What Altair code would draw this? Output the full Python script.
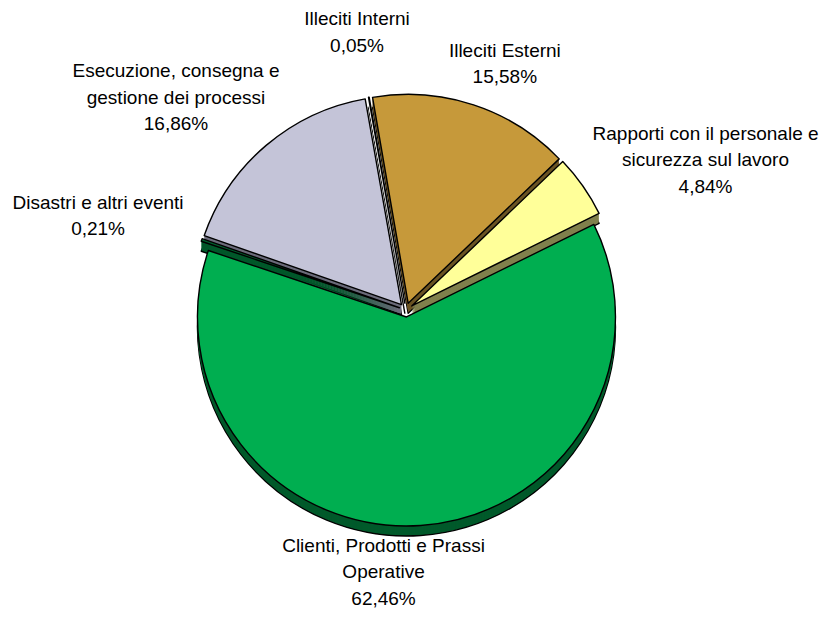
import altair as alt
import pandas as pd

# ---- data -------------------------------------------------------------
categories = [
    "Illeciti Interni",
    "Illeciti Esterni",
    "Rapporti con il personale e\nsicurezza sul lavoro",
    "Clienti, Prodotti e Prassi\nOperative",
    "Disastri e altri eventi",
    "Esecuzione, consegna e\ngestione dei processi",
]
shares = [0.05, 15.58, 4.84, 62.46, 0.21, 16.86]
pct_labels = [f"{v:.2f}".replace(".", ",") + "%" for v in shares]

# ---- styling / layout ---------------------------------------------------
top_colors = ["#FFFFFF", "#C6993A", "#FFFF99", "#00AE50", "#00602E", "#C4C4D8"]
side_colors = ["#FFFFFF", "#6B5424", "#80804D", "#005A2B", "#00582A", "#6B6B7A"]
label_angle_deg = [-10.0, 21.9, 63.4, 184.9, 287.0, 312.7]
label_radius_px = [282, 265, 335, 263, 322, 313]

START_DEG = -10.0   # rotation of first slice
EXPLODE = 7         # explosion distance (px)
RADIUS = 209        # pie radius (px)
DEPTH = 10          # 3D thickness (px)
LINE_H = 26.5       # label line height
W, H = 812, 604
CX, CY = 398, 302   # pie centre inside the view

df = pd.DataFrame({
    "order": list(range(len(categories))),
    "cat": categories,
    "share": shares,
    "label": [c + "\n" + p for c, p in zip(categories, pct_labels)],
    "la": label_angle_deg,
    "lr": label_radius_px,
})

xs = alt.Scale(domain=[-CX, W - CX], range=[0, W])
ys = alt.Scale(domain=[-CY, H - CY], range=[0, H])

base = (
    alt.Chart(df)
    .transform_window(cum="sum(share)", sort=[alt.SortField("order")], frame=[None, 0])
    .transform_joinaggregate(total="sum(share)")
    .transform_calculate(
        start=f"{START_DEG}*PI/180 + 2*PI*(datum.cum - datum.share)/datum.total",
        end=f"{START_DEG}*PI/180 + 2*PI*datum.cum/datum.total",
    )
    .transform_calculate(mid="(datum.start + datum.end)/2")
    .transform_calculate(
        cx=f"{EXPLODE}*sin(datum.mid)",
        cy=f"-{EXPLODE}*cos(datum.mid)",
        lx="datum.lr*sin(datum.la*PI/180)",
        ly=f"-datum.lr*cos(datum.la*PI/180) - (split(datum.label, '\\n').length - 1)*{LINE_H}/2",
    )
)

enc_common = dict(
    x=alt.X("cx:Q", scale=xs, axis=None),
    y=alt.Y("cy:Q", scale=ys, axis=None),
    theta=alt.Theta("start:Q", scale=None),
    theta2=alt.Theta2("end:Q"),
)

layers = []
# extruded sides: deepest (stroked) first, then fill-only copies up to the top
for d in range(DEPTH, 0, -1):
    props = dict(outerRadius=RADIUS, yOffset=d)
    if d == DEPTH:
        props.update(stroke="black", strokeWidth=1.4, strokeJoin="round")
    layers.append(
        base.mark_arc(**props).encode(
            fill=alt.Fill("cat:N", scale=alt.Scale(domain=categories, range=side_colors), legend=None),
            **enc_common,
        )
    )

top = base.mark_arc(
    outerRadius=RADIUS, stroke="black", strokeWidth=1.4, strokeJoin="round"
).encode(
    fill=alt.Fill("cat:N", scale=alt.Scale(domain=categories, range=top_colors), legend=None),
    **enc_common,
)
layers.append(top)

labels = base.mark_text(
    font="Liberation Sans", fontSize=19, lineBreak="\n", lineHeight=LINE_H,
    align="center", baseline="middle", color="black",
).encode(
    x=alt.X("lx:Q", scale=xs, axis=None),
    y=alt.Y("ly:Q", scale=ys, axis=None),
    text="label:N",
)
layers.append(labels)

chart = (
    alt.layer(*layers)
    .resolve_scale(fill="independent")
    .properties(width=W, height=H, padding=0, autosize="none", background="white")
    .configure_view(stroke=None)
)

chart.save("out.html", embed_options={"renderer": "svg", "actions": False})
